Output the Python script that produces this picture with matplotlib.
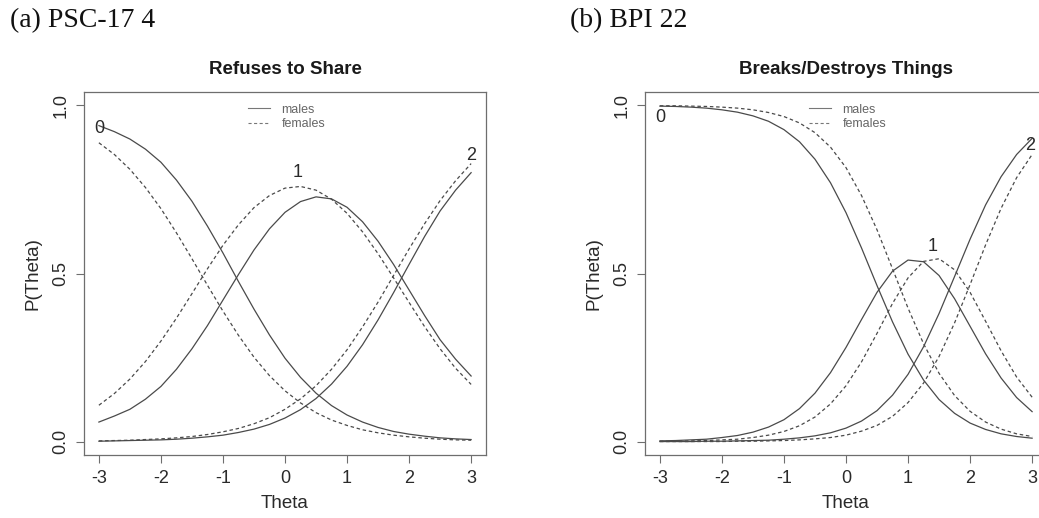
import matplotlib
matplotlib.use("Agg")
import matplotlib.pyplot as plt

# ---------------- data ----------------
THETA = [-3.0, -2.75, -2.5, -2.25, -2.0, -1.75, -1.5, -1.25, -1.0, -0.75, -0.5, -0.25,
         0.0, 0.25, 0.5, 0.75, 1.0, 1.25, 1.5, 1.75, 2.0, 2.25, 2.5, 2.75, 3.0]

# Panel (a) PSC-17 4 : Refuses to Share
a_male_cat0 = [0.940, 0.922, 0.900, 0.870, 0.831, 0.778, 0.715, 0.641, 0.561, 0.476, 0.394, 0.317,
               0.248, 0.191, 0.144, 0.107, 0.079, 0.058, 0.042, 0.030, 0.022, 0.016, 0.011, 0.008, 0.006]
a_male_cat1 = [0.058, 0.076, 0.096, 0.126, 0.164, 0.215, 0.276, 0.345, 0.421, 0.497, 0.570, 0.633,
               0.682, 0.714, 0.728, 0.722, 0.697, 0.654, 0.596, 0.527, 0.451, 0.375, 0.303, 0.245, 0.195]
a_male_cat2 = [0.001, 0.002, 0.003, 0.004, 0.005, 0.007, 0.010, 0.014, 0.019, 0.027, 0.037, 0.051,
               0.070, 0.095, 0.128, 0.171, 0.224, 0.288, 0.362, 0.443, 0.527, 0.610, 0.686, 0.748, 0.800]
a_female_cat0 = [0.889, 0.854, 0.810, 0.756, 0.693, 0.621, 0.544, 0.465, 0.388, 0.316, 0.251, 0.196,
                 0.151, 0.115, 0.086, 0.064, 0.048, 0.035, 0.026, 0.019, 0.014, 0.010, 0.007, 0.005, 0.004]
a_female_cat1 = [0.108, 0.143, 0.186, 0.238, 0.299, 0.367, 0.440, 0.514, 0.584, 0.645, 0.696, 0.732,
                 0.754, 0.759, 0.748, 0.721, 0.679, 0.624, 0.559, 0.487, 0.414, 0.342, 0.276, 0.218, 0.170]
a_female_cat2 = [0.002, 0.003, 0.004, 0.006, 0.008, 0.011, 0.015, 0.021, 0.029, 0.039, 0.053, 0.071,
                 0.096, 0.127, 0.166, 0.215, 0.273, 0.341, 0.415, 0.494, 0.573, 0.648, 0.717, 0.776, 0.827]

# Panel (b) BPI 22 : Breaks/Destroys Things
b_male_cat0 = [0.998, 0.997, 0.995, 0.992, 0.987, 0.980, 0.969, 0.953, 0.928, 0.892, 0.840, 0.770,
               0.681, 0.576, 0.464, 0.356, 0.260, 0.183, 0.125, 0.084, 0.055, 0.036, 0.023, 0.015, 0.010]
b_male_cat1 = [0.002, 0.003, 0.005, 0.007, 0.012, 0.018, 0.028, 0.043, 0.065, 0.098, 0.144, 0.205,
               0.280, 0.363, 0.444, 0.507, 0.540, 0.535, 0.494, 0.425, 0.343, 0.261, 0.189, 0.131, 0.089]
b_male_cat2 = [0.000, 0.000, 0.000, 0.001, 0.001, 0.002, 0.003, 0.004, 0.007, 0.011, 0.017, 0.026,
               0.040, 0.061, 0.092, 0.138, 0.200, 0.282, 0.381, 0.491, 0.602, 0.704, 0.788, 0.854, 0.902]
b_female_cat0 = [0.999, 0.999, 0.998, 0.997, 0.995, 0.992, 0.987, 0.979, 0.967, 0.948, 0.919, 0.876,
                 0.815, 0.732, 0.630, 0.514, 0.397, 0.291, 0.203, 0.137, 0.090, 0.058, 0.037, 0.023, 0.015]
b_female_cat1 = [0.001, 0.001, 0.002, 0.003, 0.005, 0.007, 0.012, 0.019, 0.030, 0.047, 0.073, 0.112,
                 0.166, 0.237, 0.322, 0.411, 0.487, 0.536, 0.544, 0.511, 0.444, 0.358, 0.270, 0.192, 0.132]
b_female_cat2 = [0.000, 0.000, 0.000, 0.000, 0.000, 0.001, 0.001, 0.002, 0.003, 0.005, 0.008, 0.012,
                 0.019, 0.031, 0.048, 0.075, 0.116, 0.174, 0.253, 0.353, 0.467, 0.585, 0.694, 0.785, 0.854]

panel_labels = ["(a) PSC-17 4", "(b) BPI 22"]
titles = ["Refuses to Share", "Breaks/Destroys Things"]
legend_labels = ["males", "females"]
x_ticks = [-3, -2, -1, 0, 1, 2, 3]
y_ticks = [0.0, 0.5, 1.0]
y_tick_labels = ["0.0", "0.5", "1.0"]
cat_names = ["0", "1", "2"]
a_cat_label_pos = [(-3.0, 0.93), (0.2, 0.80), (3.0, 0.85)]
b_cat_label_pos = [(-3.0, 0.965), (1.39, 0.58), (2.97, 0.88)]

# ---------------- figure ----------------
plt.rcParams['font.family'] = ['Liberation Sans', 'DejaVu Sans']
fig = plt.figure(figsize=(10.39, 5.18), dpi=100)

W, H = 1039.0, 518.0
line_col = '#4a4a4a'
box_col = '#6e6e6e'
text_col = '#2a2a2a'
dash = (0, (2.8, 2.2))

panels = [
    dict(left=84, label_x=10, males=[a_male_cat0, a_male_cat1, a_male_cat2],
         females=[a_female_cat0, a_female_cat1, a_female_cat2], labpos=a_cat_label_pos),
    dict(left=645, label_x=570, males=[b_male_cat0, b_male_cat1, b_male_cat2],
         females=[b_female_cat0, b_female_cat1, b_female_cat2], labpos=b_cat_label_pos),
]

ax_w, top_px, bot_px = 402.0, 92.0, 455.0
for i, p in enumerate(panels):
    ax = fig.add_axes([p['left'] / W, 1 - bot_px / H, ax_w / W, (bot_px - top_px) / H])
    for k, ys in enumerate(p['males']):
        ax.plot(THETA, ys, color=line_col, lw=0.9, solid_joinstyle='round',
                label=legend_labels[0] if k == 0 else None)
    for k, ys in enumerate(p['females']):
        ax.plot(THETA, ys, color=line_col, lw=0.9, linestyle=dash,
                label=legend_labels[1] if k == 0 else None)
    for name, (tx, ty) in zip(cat_names, p['labpos']):
        ax.text(tx, ty, name, fontsize=13, color=text_col, ha='center', va='center')

    ax.set_xlim(-3.24, 3.24)
    ax.set_ylim(-0.04, 1.04)
    ax.set_xticks(x_ticks)
    ax.set_xticklabels([str(t) for t in x_ticks])
    ax.set_yticks(y_ticks)
    ax.set_yticklabels(y_tick_labels, rotation=90, va='center')
    ax.tick_params(direction='out', length=5.5, width=0.8, color=box_col,
                   labelsize=13, labelcolor=text_col, pad=5)
    for s in ax.spines.values():
        s.set_color(box_col)
        s.set_linewidth(0.9)
    ax.set_xlabel("Theta", fontsize=13.5, color=text_col, labelpad=6)
    ax.set_ylabel("P(Theta)", fontsize=13.5, color=text_col, labelpad=8)
    ax.set_title(titles[i], fontsize=13.5, fontweight='bold', color='#1a1a1a', pad=13)

    leg = ax.legend(loc='upper left', bbox_to_anchor=(0.407, 0.968), frameon=False,
                    fontsize=9, handlelength=1.8, handletextpad=0.9, labelspacing=0.2,
                    borderpad=0, borderaxespad=0, labelcolor='#666666')
    for h in leg.get_lines():
        h.set_color('#777777')
        h.set_linewidth(0.8)

    fig.text(p['label_x'] / W, 1 - 21 / H, panel_labels[i], fontsize=20,
             family=['Liberation Serif', 'DejaVu Serif'], color='#111111',
             ha='left', va='center')

fig.savefig("out.png", dpi=100)
